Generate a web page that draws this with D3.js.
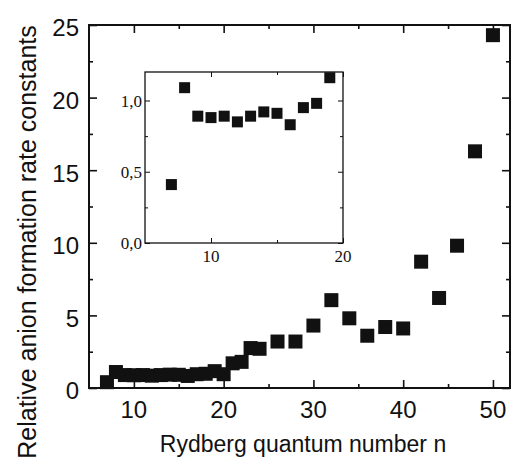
<!DOCTYPE html>
<html>
<head>
<meta charset="utf-8">
<script src="https://cdn.jsdelivr.net/npm/d3@7"></script>
<style>
  body { margin: 0; background: #fff; }
  svg { display: block; }
</style>
</head>
<body>
<svg id="chart"></svg>
<script>
// main plot: relative rate constant vs n
const mainN = [7, 8, 9, 10, 11, 12, 13, 14, 15, 16, 17, 18, 19, 20, 21, 22, 23, 24, 26, 28, 30, 32, 34, 36, 38, 40, 42, 44, 46, 48, 50];
const mainK = [0.4, 1.1, 0.89, 0.88, 0.89, 0.85, 0.89, 0.92, 0.91, 0.83, 0.95, 0.98, 1.16, 0.95, 1.7, 1.8, 2.75, 2.7, 3.2, 3.2, 4.3, 6.05, 4.8, 3.6, 4.2, 4.1, 8.7, 6.2, 9.8, 16.3, 24.3];

// inset: low n detail
const insetN = [7, 8, 9, 10, 11, 12, 13, 14, 15, 16, 17, 18, 19];
const insetK = [0.41, 1.09, 0.89, 0.88, 0.89, 0.85, 0.89, 0.92, 0.91, 0.83, 0.95, 0.98, 1.16];

const xTicks = [10, 20, 30, 40, 50];
const yTicks = [0, 5, 10, 15, 20, 25];
const insetXTicks = [10, 20];
const insetYTicks = [0, 0.5, 1.0];

const width = 512, height = 464;
const svg = d3.select("#chart").attr("width", width).attr("height", height);

const x = d3.scaleLinear().domain([5, 51.9]).range([89, 510]);
const y = d3.scaleLinear().domain([0, 25]).range([388, 25]);

const ink = "#111";

function frame(g, xs, ys, xMaj, xMin, yMaj, yMin, big, small, sw) {
  const [x0, x1] = xs.range();
  const [y0, y1] = ys.range();
  g.append("g").attr("transform", `translate(0,${y0})`)
    .call(d3.axisBottom(xs).tickValues(xMin).tickSize(-small).tickFormat(""));
  g.append("g").attr("transform", `translate(0,${y0})`)
    .call(d3.axisBottom(xs).tickValues(xMaj).tickSize(-big).tickFormat(""));
  g.append("g").attr("transform", `translate(0,${y1})`)
    .call(d3.axisTop(xs).tickValues(xMin).tickSize(-small).tickFormat(""));
  g.append("g").attr("transform", `translate(0,${y1})`)
    .call(d3.axisTop(xs).tickValues(xMaj).tickSize(-big).tickFormat(""));
  g.append("g").attr("transform", `translate(${x0},0)`)
    .call(d3.axisLeft(ys).tickValues(yMin).tickSize(-small).tickFormat(""));
  g.append("g").attr("transform", `translate(${x0},0)`)
    .call(d3.axisLeft(ys).tickValues(yMaj).tickSize(-big).tickFormat(""));
  g.append("g").attr("transform", `translate(${x1},0)`)
    .call(d3.axisRight(ys).tickValues(yMin).tickSize(-small).tickFormat(""));
  g.append("g").attr("transform", `translate(${x1},0)`)
    .call(d3.axisRight(ys).tickValues(yMaj).tickSize(-big).tickFormat(""));
  g.selectAll(".domain").remove();
  g.selectAll(".tick line").attr("stroke", ink).attr("stroke-width", sw * 0.8);
  g.append("rect")
    .attr("x", x0).attr("y", y1)
    .attr("width", x1 - x0).attr("height", y0 - y1)
    .attr("fill", "none").attr("stroke", ink).attr("stroke-width", sw);
}

// main frame and ticks
const main = svg.append("g");
frame(main, x, y, xTicks, [15, 25, 35, 45], yTicks, [2.5, 7.5, 12.5, 17.5, 22.5], 8, 4, 2);

main.selectAll("text.xl").data(xTicks).join("text")
  .attr("x", d => x(d)).attr("y", 418)
  .attr("text-anchor", "middle")
  .attr("font-family", "Liberation Sans, Arial, sans-serif")
  .attr("font-size", 24).attr("fill", ink)
  .text(d => d);

main.selectAll("text.yl").data(yTicks).join("text")
  .attr("x", 79).attr("y", d => y(d) + 5)
  .attr("text-anchor", "end")
  .attr("dominant-baseline", "middle")
  .attr("font-family", "Liberation Sans, Arial, sans-serif")
  .attr("font-size", 24).attr("fill", ink)
  .text(d => d);

svg.append("text")
  .attr("x", 303).attr("y", 452)
  .attr("text-anchor", "middle")
  .attr("font-family", "Liberation Sans, Arial, sans-serif")
  .attr("font-size", 23).attr("fill", ink)
  .text("Rydberg quantum number n");

svg.append("text")
  .attr("transform", "translate(36,242) rotate(-90)")
  .attr("text-anchor", "middle")
  .attr("font-family", "Liberation Sans, Arial, sans-serif")
  .attr("font-size", 25).attr("fill", ink)
  .text("Relative anion formation rate constants");

// main markers
const ms = 14;
main.selectAll("rect.pt").data(mainN.map((n, i) => [n, mainK[i]])).join("rect")
  .attr("x", d => x(d[0]) - ms / 2)
  .attr("y", d => y(d[1]) - ms / 2)
  .attr("width", ms).attr("height", ms)
  .attr("fill", ink);

// inset
const ix = d3.scaleLinear().domain([5, 20]).range([145, 343]);
const iy = d3.scaleLinear().domain([0, 1.2]).range([243, 72]);

const inset = svg.append("g");
inset.append("rect")
  .attr("x", 145).attr("y", 72).attr("width", 198).attr("height", 171)
  .attr("fill", "#fff");
frame(inset, ix, iy, insetXTicks, [15], insetYTicks, [0.25, 0.75], 5, 3, 1.3);

inset.selectAll("text.ixl").data(insetXTicks).join("text")
  .attr("x", d => ix(d)).attr("y", 262)
  .attr("text-anchor", "middle")
  .attr("font-family", "Liberation Serif, Times New Roman, serif")
  .attr("font-size", 17).attr("fill", ink)
  .text(d => d);

inset.selectAll("text.iyl").data(insetYTicks).join("text")
  .attr("x", 142).attr("y", d => iy(d) + 6)
  .attr("text-anchor", "end")
  .attr("font-family", "Liberation Serif, Times New Roman, serif")
  .attr("font-size", 17).attr("fill", ink)
  .text(d => d3.format(".1f")(d).replace(".", ","));

const is = 11;
inset.selectAll("rect.ipt").data(insetN.map((n, i) => [n, insetK[i]])).join("rect")
  .attr("x", d => ix(d[0]) - is / 2)
  .attr("y", d => iy(d[1]) - is / 2)
  .attr("width", is).attr("height", is)
  .attr("fill", ink);
</script>
</body>
</html>
